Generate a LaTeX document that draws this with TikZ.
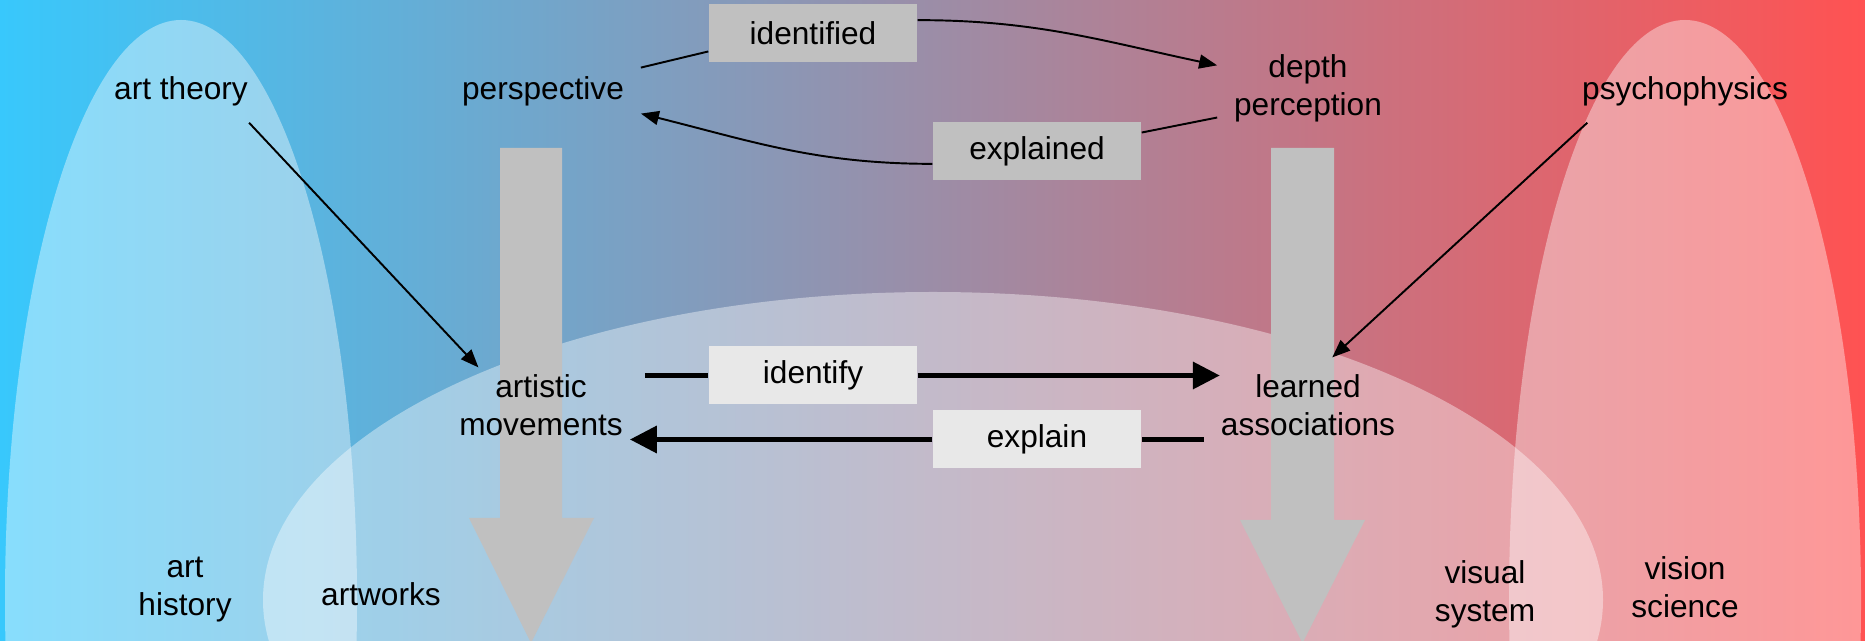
\documentclass[tikz,border=0pt]{standalone}
\usepackage{fontspec}
\setmainfont{Liberation Sans}
\usetikzlibrary{arrows.meta, positioning, calc}
\definecolor{mycyan}{RGB}{56, 200, 252}
\definecolor{myred}{RGB}{255, 82, 82}
\definecolor{mygray}{RGB}{192, 192, 192}
\definecolor{mylight}{RGB}{232, 232, 232}

\begin{document}
\begin{tikzpicture}[
    font=\fontsize{9}{10.8}\selectfont,
    field/.style={fill=white, fill opacity=0.4},
    flow/.style={fill=mygray},
    concept/.style={align=center, inner sep=0.07cm, outer sep=0.1cm},
    verb/.style={rectangle, minimum width=2.08cm, minimum height=0.58cm, inner sep=0pt},
    thinline/.style={line width=0.55pt},
    thinarrow/.style={thinline, -{Triangle[length=0.18cm, width=0.14cm]}},
    boldline/.style={line width=1.7pt},
    boldarrow/.style={boldline, -{Triangle[length=0.27cm, width=0.26cm]}}
  ]
    % 背景
    \useasboundingbox (0, 0) rectangle (18.65, 6.41);
    \clip (0, 0) rectangle (18.65, 6.41);
    \shade[left color=mycyan, right color=myred] (0, 0) rectangle (18.65, 6.41);

    % 领域
    \fill[field] (1.81, 0.41) ellipse [x radius=1.76, y radius=5.80];
    \fill[field] (16.85, 0.41) ellipse [x radius=1.76, y radius=5.80];
    \fill[field] (9.33, 0.41) ellipse [x radius=6.70, y radius=3.08];

    % 灰色箭头
    \fill[flow] (5.00, 4.93) -- (5.62, 4.93) -- (5.62, 1.23) -- (5.94, 1.23) -- (5.31, -0.02) -- (4.69, 1.23) -- (5.00, 1.23) -- cycle;
    \fill[flow] (12.71, 4.93) -- (13.34, 4.93) -- (13.34, 1.21) -- (13.65, 1.21) -- (13.025, -0.02) -- (12.40, 1.21) -- (12.71, 1.21) -- cycle;

    % 概念
    \node[concept] (arttheory) at (1.81, 5.50) {art theory};
    \node[concept] (persp) at (5.43, 5.50) {perspective};
    \node[concept] (depth) at (13.08, 5.53) {depth\\perception};
    \node[concept] (psycho) at (16.85, 5.50) {psychophysics};
    \node[concept, outer sep=0pt] (artmov) at (5.41, 2.36) {artistic\\movements};
    \node[concept] (learned) at (13.08, 2.36) {learned\\associations};
    \node[concept] (arthist) at (1.85, 0.51) {art\\history};
    \node[concept] (artworks) at (3.81, 0.47) {artworks};
    \node[concept] (vissys) at (14.85, 0.47) {visual\\system};
    \node[concept] (vissci) at (16.85, 0.54) {vision\\science};

    % 关系
    \node[verb, fill=mygray] (identified) at (8.13, 6.08) {identified};
    \node[verb, fill=mygray] (explained) at (10.37, 4.90) {explained};
    \node[verb, fill=mylight] (identify) at (8.13, 2.655) {identify};
    \node[verb, fill=mylight] (explain) at (10.37, 2.015) {explain};

    \draw[thinline] (persp) -- (identified.190);
    \draw[thinarrow] (identified.7) to[out=0, in=168] (depth.166);
    \draw[thinline] (depth.198) -- (explained.10);
    \draw[thinarrow] (explained.187) to[out=180, in=-14] (persp.-13);

    \draw[boldline, shorten <=0.15cm] (artmov.east |- identify) -- (identify.west);
    \draw[boldarrow] (identify.east) -- ($(learned.west |- identify)+(0.16, 0)$);
    \draw[boldline] (learned.west |- explain) -- (explain.east);
    \draw[boldarrow] (explain.west) -- (artmov.east |- explain);

    \draw[thinarrow] (arttheory.-25) -- (artmov.149);
    \draw[thinarrow] (psycho.198) -- (learned.63);
\end{tikzpicture}
\end{document}
